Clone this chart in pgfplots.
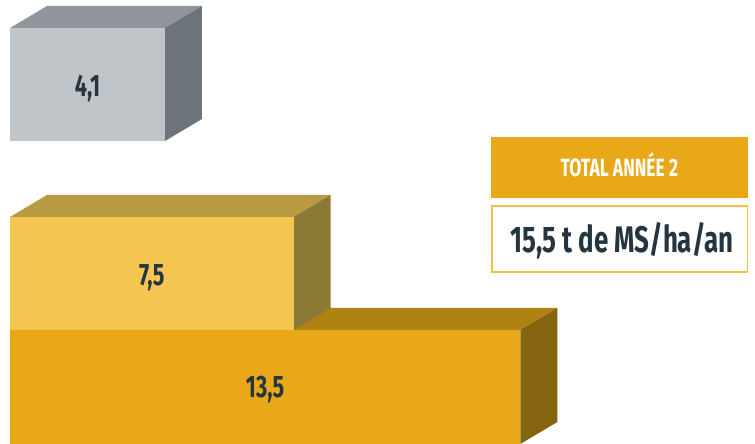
\documentclass[border=0pt]{standalone}
\usepackage{fontspec}
\setmainfont{Fira Sans}
\newfontfamily\cond[FakeStretch=0.7]{Fira Sans}
\usepackage{pgfplots}
\pgfplotsset{compat=1.18}
\definecolor{grF}{HTML}{BFC4C8}
\definecolor{grT}{HTML}{8F959B}
\definecolor{grS}{HTML}{6C737A}
\definecolor{yeF}{HTML}{F4C550}
\definecolor{yeT}{HTML}{B99A41}
\definecolor{yeS}{HTML}{8B7A34}
\definecolor{orF}{HTML}{E8A817}
\definecolor{orT}{HTML}{B08212}
\definecolor{orS}{HTML}{84640E}
\definecolor{txt}{HTML}{243540}
\definecolor{boxB}{HTML}{F0C04A}
\begin{document}
\begin{tikzpicture}
\begin{axis}[width=755pt,height=444pt,scale only axis,hide axis,
  xmin=-0.2646,xmax=19.709,ymin=0,ymax=444,clip=false]
\path (rel axis cs:0,0) rectangle (rel axis cs:1,1);
% orange bar 13.5
\addplot[fill=orT,draw=none] coordinates {(0,114) (13.5,114) (14.479,136) (0.979,136)};
\addplot[fill=orS,draw=none] coordinates {(13.5,0) (14.479,22) (14.479,136) (13.5,114)};
\addplot[xbar,bar width=114,fill=orF,draw=none] coordinates {(13.5,57)};
% yellow bar 7.5
\addplot[fill=yeT,draw=none] coordinates {(0,227) (7.5,227) (8.479,249) (0.979,249)};
\addplot[fill=yeS,draw=none] coordinates {(7.5,114) (8.479,136) (8.479,249) (7.5,227)};
\addplot[xbar,bar width=113,fill=yeF,draw=none] coordinates {(7.5,170.5)};
% gray bar 4.1
\addplot[fill=grT,draw=none] coordinates {(0,416) (4.1,416) (5.079,438) (0.979,438)};
\addplot[fill=grS,draw=none] coordinates {(4.1,303) (5.079,325) (5.079,438) (4.1,416)};
\addplot[xbar,bar width=113,fill=grF,draw=none] coordinates {(4.1,359.5)};
% labels
\tikzset{lab/.style={text=txt,anchor=base,inner sep=0pt,font=\cond\bfseries\fontsize{31pt}{32pt}\selectfont}}
\node[lab] at (axis cs:2.05,347) {4,1};
\node[lab] at (axis cs:3.75,158) {7,5};
\node[lab] at (axis cs:6.75,46) {13,5};
% total box
\fill[orF] (axis cs:12.725,246) rectangle (axis cs:19.524,307);
\draw[boxB,line width=1.5pt,fill=white] (axis cs:12.745,172) rectangle (axis cs:19.504,238);
\node[text=white,anchor=base,inner sep=0pt,font=\cond\bfseries\fontsize{25pt}{26pt}\selectfont] at (axis cs:16.12,267) {TOTAL ANNÉE 2};
\node[text=txt,anchor=base west,inner sep=0pt,font=\cond\bfseries\fontsize{37pt}{39pt}\selectfont] at (axis cs:13.228,191) {15,5 t de MS/ha/an};
\end{axis}
\end{tikzpicture}
\end{document}
